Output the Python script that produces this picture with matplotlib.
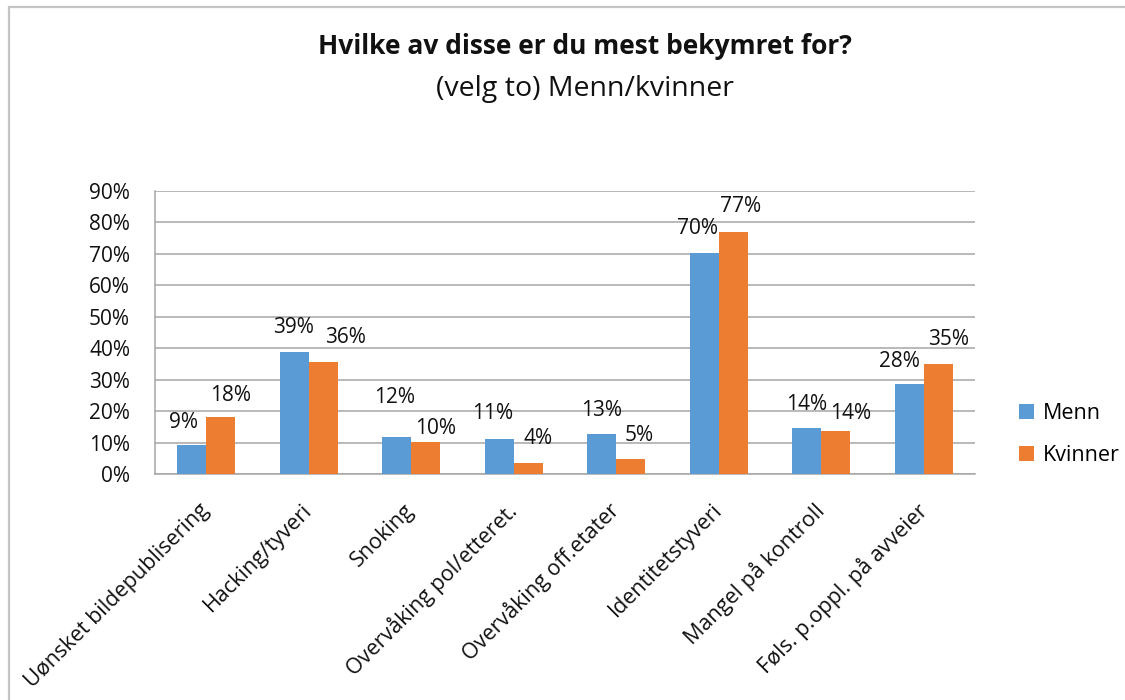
import numpy as np
import matplotlib
matplotlib.use('Agg')
import matplotlib.pyplot as plt
from matplotlib.patches import Rectangle
from matplotlib.ticker import FuncFormatter

plt.rcParams['font.family'] = ['Open Sans', 'DejaVu Sans']

categories = ['Uønsket bildepublisering', 'Hacking/tyveri', 'Snoking',
              'Overvåking pol/etteret.', 'Overvåking off.etater',
              'Identitetstyveri', 'Mangel på kontroll',
              'Føls. p.oppl. på avveier']
menn = [9.2, 38.8, 11.7, 11.1, 12.6, 70.4, 14.5, 28.5]
kvinner = [18.0, 35.7, 10.1, 3.6, 4.8, 77.1, 13.7, 35.1]
menn_labels = ['9%', '39%', '12%', '11%', '13%', '70%', '14%', '28%']
kvinner_labels = ['18%', '36%', '10%', '4%', '5%', '77%', '14%', '35%']

# label nudges in pixels (placement only)
menn_off = [(-8, 23), (-1, 24), (-2, 40), (-7, 26), (0, 24), (-7, 24), (0, 24), (-10, 23)]
kvinner_off = [(10, 22), (22, 24), (10, 14), (10, 24), (8, 23), (7, 25), (15, 17), (10, 24)]

blue = '#5B9BD5'
orange = '#ED7D31'
grid_c = '#a6a6a6'

fig = plt.figure(figsize=(11.25, 7), dpi=100)
fig.add_artist(Rectangle((9 / 1125, -0.01), 1.1, 693 / 700 + 0.01,
                         transform=fig.transFigure, fill=False,
                         ec='#c4c4c4', lw=1.6))

ax = fig.add_axes([155 / 1125, 1 - 474 / 700, 820 / 1125, 283 / 700])
x = np.arange(len(categories))
w = 0.283
b1 = ax.bar(x - w / 2, menn, w, color=blue, label='Menn', zorder=3)
b2 = ax.bar(x + w / 2, kvinner, w, color=orange, label='Kvinner', zorder=3)

for bars, labs, offs in [(b1, menn_labels, menn_off), (b2, kvinner_labels, kvinner_off)]:
    for rect, lab, (dx, dy) in zip(bars, labs, offs):
        ax.annotate(lab, (rect.get_x() + rect.get_width() / 2, rect.get_height()),
                    xytext=(dx, dy), textcoords='offset pixels',
                    ha='center', va='center', fontsize=15, color='#111111')

ax.set_xlim(-0.5, len(categories) - 0.5)
ax.set_ylim(0, 90)
ax.set_yticks(np.arange(0, 91, 10))
ax.yaxis.set_major_formatter(FuncFormatter(lambda v, p: f'{v:.0f}%'))
ax.yaxis.grid(True, color=grid_c, lw=1.1, zorder=0)
ax.set_axisbelow(True)
for s in ['top', 'right']:
    ax.spines[s].set_visible(False)
for s in ['left', 'bottom']:
    ax.spines[s].set_color(grid_c)
    ax.spines[s].set_linewidth(1.1)
ax.tick_params(axis='y', length=0, pad=18, labelsize=15, labelcolor='#111111')
ax.tick_params(axis='x', length=0, pad=24, labelsize=15.5, labelcolor='#111111')
ax.set_xticks(x)
ax.set_xticklabels(categories, rotation=45, ha='right', va='center',
                   rotation_mode='anchor')

fig.text(0.52, 1 - 47 / 700, 'Hvilke av disse er du mest bekymret for?',
         ha='center', va='center', fontsize=19, fontweight='bold', color='#111111')
fig.text(0.52, 1 - 89 / 700, '(velg to) Menn/kvinner',
         ha='center', va='center', fontsize=20.5, color='#111111')

ax.legend(loc='center left', bbox_to_anchor=(1.03, 0.14), frameon=False,
          fontsize=15.5, handlelength=0.7, handleheight=0.7, labelspacing=1.0,
          handletextpad=0.4)

fig.savefig('out.png', dpi=100)
